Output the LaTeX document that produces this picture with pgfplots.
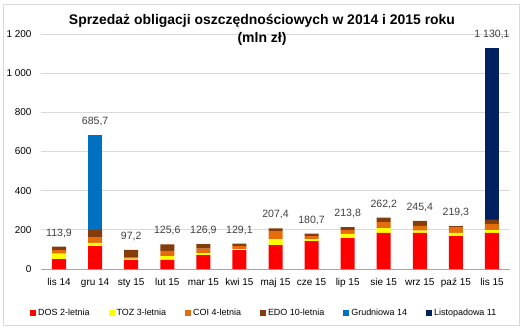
\documentclass[border=0pt]{standalone}
\usepackage{pgfplots}
\pgfplotsset{compat=1.18}
\usepackage{fontspec}
\setmainfont{Liberation Sans}
\definecolor{cDOS}{HTML}{FF0000}
\definecolor{cTOZ}{HTML}{FFFF00}
\definecolor{cCOI}{HTML}{E46C0A}
\definecolor{cEDO}{HTML}{843C0C}
\definecolor{cGRU}{HTML}{0070C0}
\definecolor{cLIS}{HTML}{002060}
\definecolor{txt}{HTML}{404040}
\definecolor{grid}{HTML}{D9D9D9}
\begin{document}
\begin{tikzpicture}[x=1bp,y=1bp]
\fill[white] (0,0) rectangle (531,329);
\draw[color=grid, line width=0.8bp] (3,4) rectangle (519,325);
\begin{axis}[
  at={(41bp,60bp)}, anchor=south west,
  width=469bp, height=235bp, scale only axis,
  ybar stacked, bar width=14bp,
  xmin=-0.5, xmax=12.5, ymin=0, ymax=1200,
  xtick={0,...,12},
  xticklabels={lis 14,gru 14,sty 15,lut 15,mar 15,kwi 15,maj 15,cze 15,lip 15,sie 15,wrz 15,paź 15,lis 15},
  x tick style={draw=none},
  major tick length=4bp,
  extra x ticks={-0.5,0.5,...,12.5},
  extra x tick labels={},
  extra x tick style={grid=none, tick style={draw=gray!70}, tick align=outside},
  ytick={0,200,...,1200},
  yticklabels={0,200,400,600,800,1 000,1 200},
  y tick style={draw=none},
  ymajorgrids, grid style={draw=grid, line width=0.8bp},
  axis x line*=bottom, axis y line*=left,
  x axis line style={draw=gray!70, line width=0.8bp, -},
  y axis line style={draw=none},
  tick label style={font=\fontsize{10}{12}\selectfont, text=black},
  xticklabel style={yshift=-6bp},
  yticklabel style={xshift=-6bp},
  legend style={at={(0.476,-0.187)}, anchor=center, draw=none, fill=none,
    legend columns=6, font=\fontsize{9}{11}\selectfont,
    /tikz/every even column/.append style={column sep=17bp}},
  legend image code/.code={\fill[#1] (0bp,-3bp) rectangle (6bp,3bp);},
]
\addplot[fill=cDOS, draw=none] coordinates {(0,51) (1,117) (2,46) (3,46) (4,71) (5,97) (6,122) (7,143) (8,158) (9,185) (10,185) (11,168) (12,184)};
\addplot[fill=cTOZ, draw=none] coordinates {(0,27) (1,16) (2,7) (3,20) (4,10) (5,5) (6,31) (7,10) (8,21) (9,24) (10,11) (11,16) (12,15)};
\addplot[fill=cCOI, draw=none] coordinates {(0,19) (1,27) (2,8) (3,26) (4,23) (5,15) (6,41) (7,15) (8,20) (9,31) (10,24) (11,27) (12,32)};
\addplot[fill=cEDO, draw=none] coordinates {(0,16.9) (1,38.7) (2,36.2) (3,33.6) (4,22.9) (5,12.1) (6,13.4) (7,12.7) (8,14.8) (9,22.2) (10,25.4) (11,8.3) (12,21)};
\addplot[fill=cGRU, draw=none] coordinates {(0,0) (1,487) (2,0) (3,0) (4,0) (5,0) (6,0) (7,0) (8,0) (9,0) (10,0) (11,0) (12,0)};
\addplot[fill=cLIS, draw=none] coordinates {(0,0) (1,0) (2,0) (3,0) (4,0) (5,0) (6,0) (7,0) (8,0) (9,0) (10,0) (11,0) (12,878.1)};
\legend{DOS 2-letnia,TOZ 3-letnia,COI 4-letnia,EDO 10-letnia,Grudniowa 14,Listopadowa 11}
\end{axis}
\begin{axis}[
  at={(41bp,60bp)}, anchor=south west,
  width=469bp, height=235bp, scale only axis,
  xmin=-0.5, xmax=12.5, ymin=0, ymax=1200,
  axis lines=none, ticks=none,
]
\addplot[draw=none, mark=none, point meta=explicit symbolic, nodes near coords,
  every node near coord/.append style={font=\fontsize{10.6}{12}\selectfont, text=txt, anchor=south, inner sep=0pt, yshift=9bp}]
 coordinates {(0,113.9) [113,9] (1,685.7) [685,7] (2,97.2) [97,2] (3,125.6) [125,6] (4,126.9) [126,9] (5,129.1) [129,1] (6,207.4) [207,4] (7,180.7) [180,7] (8,213.8) [213,8] (9,262.2) [262,2] (10,245.4) [245,4] (11,219.3) [219,3] (12,1130.1) [1 130,1]};
\end{axis}
\node[font=\bfseries\fontsize{14}{18}\selectfont, align=center, text=black] at (262,299) {Sprzedaż obligacji oszczędnościowych w 2014 i 2015 roku\\(mln zł)};
\end{tikzpicture}
\end{document}
